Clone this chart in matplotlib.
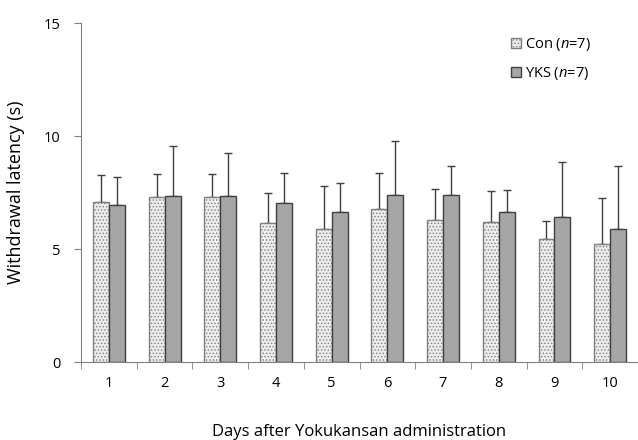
import numpy as np
import matplotlib.pyplot as plt

days = ["1", "2", "3", "4", "5", "6", "7", "8", "9", "10"]
con_mean = [7.09, 7.29, 7.29, 6.14, 5.90, 6.78, 6.27, 6.18, 5.44, 5.22]
con_top = [8.26, 8.33, 8.33, 7.48, 7.79, 8.36, 7.65, 7.58, 6.24, 7.26]
yks_mean = [6.96, 7.36, 7.36, 7.04, 6.65, 7.39, 7.39, 6.62, 6.43, 5.90]
yks_top = [8.17, 9.57, 9.25, 8.38, 7.91, 9.78, 8.69, 7.61, 8.85, 8.69]


def main():
    plt.rcParams['font.family'] = ['Open Sans', 'DejaVu Sans']
    plt.rcParams['mathtext.fontset'] = 'custom'
    plt.rcParams['mathtext.it'] = 'Open Sans:italic'
    plt.rcParams['hatch.color'] = '#8a8a8a'
    plt.rcParams['hatch.linewidth'] = 0.6

    con_err = np.array(con_top) - np.array(con_mean)
    yks_err = np.array(yks_top) - np.array(yks_mean)

    fig = plt.figure(figsize=(6.38, 4.4), dpi=100)
    ax = fig.add_axes([0.127, 0.177, 0.873, 0.7705])

    x = np.arange(1, len(days) + 1)
    w = 0.286
    ax.bar(x - w / 2, con_mean, w, color='#ececec', edgecolor='#808080',
           hatch='.....', linewidth=1, label='Con ($\\mathit{n}$=7)', zorder=2)
    ax.bar(x + w / 2, yks_mean, w, color='#a6a6a6', edgecolor='#404040',
           linewidth=1, label='YKS ($\\mathit{n}$=7)', zorder=2)
    # only the upper half of the SD is drawn
    ax.errorbar(x - w / 2, con_mean, yerr=[np.zeros(len(x)), con_err], fmt='none',
                ecolor='#404040', elinewidth=1, capsize=3, capthick=1, zorder=1)
    ax.errorbar(x + w / 2, yks_mean, yerr=[np.zeros(len(x)), yks_err], fmt='none',
                ecolor='#404040', elinewidth=1, capsize=3, capthick=1, zorder=1)

    ax.set_xlim(0.5, len(days) + 0.5)
    ax.set_ylim(0, 15)
    ax.set_yticks([0, 5, 10, 15])
    ax.set_xticks(x)
    ax.set_xticklabels(days)
    ax.set_xticks(np.arange(0.5, len(days) + 0.5, 1), minor=True)
    ax.tick_params(axis='x', which='major', length=0, pad=10, labelsize=10.5)
    ax.tick_params(axis='x', which='minor', length=5, direction='out', color='#808080')
    ax.tick_params(axis='y', length=5, color='#808080', labelsize=10.5, pad=10)

    for s in ['top', 'right']:
        ax.spines[s].set_visible(False)
    ax.spines['left'].set_color('#808080')
    ax.spines['bottom'].set_color('#808080')

    ax.set_ylabel('Withdrawal latency (s)', fontsize=13, labelpad=13)
    ax.set_xlabel('Days after Yokukansan administration', fontsize=12, labelpad=24)

    ax.legend(loc='upper right', bbox_to_anchor=(0.94, 1.0), frameon=False,
              fontsize=10.5, handlelength=0.7, handleheight=0.7,
              handletextpad=0.3, labelspacing=0.8)

    fig.savefig('out.png', dpi=100)


if __name__ == "__main__":
    main()
